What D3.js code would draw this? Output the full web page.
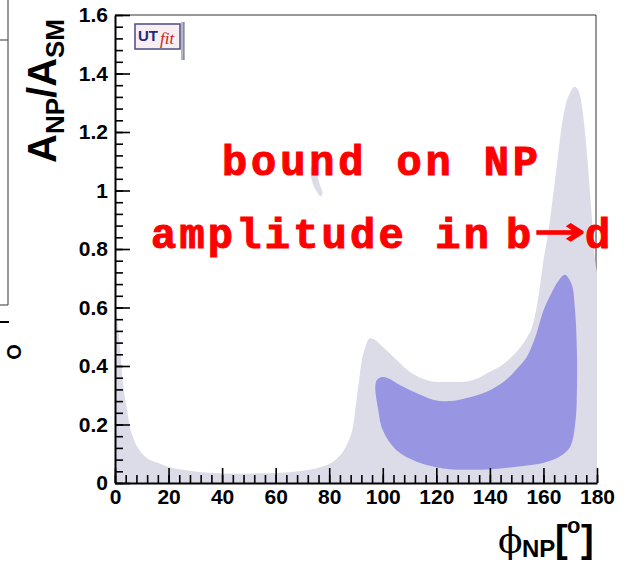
<!DOCTYPE html>
<html>
<head>
<meta charset="utf-8">
<script src="https://cdn.jsdelivr.net/npm/d3@7"></script>
<style>
  body { margin: 0; background: #fff; }
  svg { display: block; }
</style>
</head>
<body>
<div id="chart-area"></div>
<script>
// upper edge of the 95% region (phi in degrees, A_NP/A_SM)
const outerPhi = [0, 1, 2, 3, 4.5, 5.6, 7, 9.3, 12, 15.6, 20, 28, 35, 45, 55, 65, 70, 75, 80, 83, 85, 87, 89, 90, 91, 92, 93.5, 95.2, 97, 100, 103, 106.4, 110, 114, 121, 129, 136, 140, 144, 148, 151, 154, 156, 158, 160, 162, 163.7, 165.2, 166.8, 168.5, 170, 171.5, 172.5, 173.8, 175.3, 176.5, 177.4, 178.3, 179.2, 180];
const outerA = [0.60, 0.55, 0.45, 0.34, 0.25, 0.19, 0.15, 0.11, 0.085, 0.07, 0.055, 0.042, 0.035, 0.032, 0.033, 0.037, 0.042, 0.05, 0.065, 0.085, 0.105, 0.14, 0.20, 0.27, 0.34, 0.41, 0.465, 0.495, 0.49, 0.465, 0.44, 0.41, 0.38, 0.36, 0.345, 0.345, 0.36, 0.38, 0.40, 0.43, 0.46, 0.50, 0.54, 0.63, 0.76, 0.87, 0.99, 1.10, 1.22, 1.30, 1.335, 1.355, 1.35, 1.32, 1.22, 1.10, 0.99, 0.88, 0.77, 0.72];

// small isolated 95% island
const islandPhi = [73.3, 74.5, 76.5, 77.5, 76.8, 74.5, 73];
const islandA = [1.08, 1.075, 1.02, 0.99, 0.98, 1.01, 1.06];

// contour of the 68% region
const innerPhi = [97.2, 97.8, 99.6, 102, 106.4, 112.7, 118.8, 125, 131, 138.8, 146, 150, 153.7, 157, 160, 163, 165.5, 168, 170.5, 171.8, 172.5, 172.5, 172, 170, 166, 161, 156, 144, 134, 122.6, 112.7, 105, 100, 98.3];
const innerA = [0.33, 0.352, 0.362, 0.358, 0.335, 0.307, 0.285, 0.28, 0.29, 0.312, 0.352, 0.39, 0.43, 0.5, 0.59, 0.65, 0.69, 0.712, 0.68, 0.59, 0.45, 0.32, 0.215, 0.124, 0.09, 0.072, 0.062, 0.05, 0.045, 0.05, 0.073, 0.113, 0.18, 0.25];

const xMajor = d3.range(0, 181, 20);
const xMinor = d3.range(0, 181, 4);
const yMajor = [0, 0.2, 0.4, 0.6, 0.8, 1, 1.2, 1.4, 1.6];
const yMinor = d3.range(0, 1.601, 0.04);

const svg = d3.select("#chart-area")
    .append("svg")
    .attr("width", 628)
    .attr("height", 566);

const x = d3.scaleLinear().domain([0, 180]).range([115, 597]);
const y = d3.scaleLinear().domain([0, 1.6]).range([483, 15]);

// bits of the neighbouring panel cut off at the left
const bits = svg.append("g").attr("stroke", "#555").attr("stroke-width", 1.2);
bits.append("line").attr("x1", 8).attr("x2", 8).attr("y1", 0).attr("y2", 305);
bits.append("line").attr("x1", 0).attr("x2", 8).attr("y1", 40).attr("y2", 40);
bits.append("line").attr("x1", 0).attr("x2", 8).attr("y1", 305).attr("y2", 305);
svg.append("line").attr("x1", 0).attr("x2", 9).attr("y1", 322).attr("y2", 322)
    .attr("stroke", "#000").attr("stroke-width", 2);
svg.append("text")
    .attr("transform", "translate(21,352) rotate(-90)")
    .attr("text-anchor", "middle")
    .attr("font-family", "Liberation Sans, Arial, sans-serif")
    .attr("font-weight", "bold")
    .attr("font-size", 20)
    .text("O");

// thin frame (top and right)
svg.append("path")
    .attr("d", `M115,15 H596 V483`)
    .attr("fill", "none")
    .attr("stroke", "#333")
    .attr("stroke-width", 1);

// 95% region
const outer = outerPhi.map((p, i) => [p, outerA[i]]);
svg.append("path")
    .datum(outer)
    .attr("fill", "#dcdce8")
    .attr("d", d3.area()
        .x(d => x(d[0]))
        .y0(y(0))
        .y1(d => y(d[1]))
        .curve(d3.curveMonotoneX));

const island = islandPhi.map((p, i) => [p, islandA[i]]);
svg.append("path")
    .datum(island)
    .attr("fill", "#dcdce8")
    .attr("d", d3.line()
        .x(d => x(d[0]))
        .y(d => y(d[1]))
        .curve(d3.curveCatmullRomClosed));

// 68% region
const inner = innerPhi.map((p, i) => [p, innerA[i]]);
svg.append("path")
    .datum(inner)
    .attr("fill", "#9895e3")
    .attr("d", d3.line()
        .x(d => x(d[0]))
        .y(d => y(d[1]))
        .curve(d3.curveCatmullRomClosed));

// axes
const tickFont = "Liberation Sans, Arial, Helvetica, sans-serif";

svg.append("g")
    .attr("transform", "translate(0,483)")
    .call(d3.axisBottom(x).tickValues(xMinor).tickSize(-8).tickFormat(""))
    .call(g => g.select(".domain").remove())
    .call(g => g.selectAll("line").attr("stroke-width", 1.6));

svg.append("g")
    .attr("transform", "translate(0,483)")
    .call(d3.axisBottom(x).tickValues(xMajor).tickSize(-15).tickSizeOuter(0).tickPadding(6))
    .call(g => g.select(".domain").attr("stroke-width", 2))
    .call(g => g.selectAll("line").attr("stroke-width", 1.6))
    .call(g => g.selectAll("text")
        .attr("font-family", tickFont)
        .attr("font-weight", "bold")
        .attr("font-size", 21)
        .attr("fill", "#000"));

svg.append("g")
    .attr("transform", "translate(115,0)")
    .call(d3.axisLeft(y).tickValues(yMinor).tickSize(-8).tickFormat(""))
    .call(g => g.select(".domain").remove())
    .call(g => g.selectAll("line").attr("stroke-width", 1.6));

svg.append("g")
    .attr("transform", "translate(115,0)")
    .call(d3.axisLeft(y).tickValues(yMajor).tickSize(-15).tickSizeOuter(0).tickPadding(7)
        .tickFormat(d => d3.format("")(+d.toFixed(1))))
    .call(g => g.select(".domain").attr("stroke-width", 2))
    .call(g => g.selectAll("line").attr("stroke-width", 1.6))
    .call(g => g.selectAll("text")
        .attr("font-family", tickFont)
        .attr("font-weight", "bold")
        .attr("font-size", 21)
        .attr("fill", "#000"));

// y axis title
const yt = svg.append("text")
    .attr("transform", "translate(56,163) rotate(-90)")
    .attr("font-family", tickFont)
    .attr("font-weight", "bold")
    .attr("font-size", 40);
yt.append("tspan").text("A");
yt.append("tspan").attr("font-size", 26).attr("dy", 8).text("NP");
yt.append("tspan").attr("dy", -8).text("/A");
yt.append("tspan").attr("font-size", 26).attr("dy", 8).text("SM");

// x axis title
svg.append("text")
    .attr("x", 498).attr("y", 553)
    .attr("font-family", "DejaVu Serif, serif")
    .attr("font-size", 36)
    .text("\u03D5");
svg.append("text")
    .attr("x", 522).attr("y", 557)
    .attr("font-family", tickFont)
    .attr("font-weight", "bold")
    .attr("font-size", 24)
    .text("NP");
svg.append("text")
    .attr("x", 555).attr("y", 552)
    .attr("font-family", tickFont)
    .attr("font-weight", "bold")
    .attr("font-size", 38)
    .text("[");
svg.append("text")
    .attr("x", 567).attr("y", 533)
    .attr("font-family", tickFont)
    .attr("font-weight", "bold")
    .attr("font-size", 22)
    .text("o");
svg.append("text")
    .attr("x", 581).attr("y", 552)
    .attr("font-family", tickFont)
    .attr("font-weight", "bold")
    .attr("font-size", 38)
    .text("]");

// annotation
const mono = "Liberation Mono, Courier New, monospace";
const red = "#ff0000";
function note(xp, yp, str, len) {
    const t = svg.append("text")
        .attr("x", xp).attr("y", yp)
        .attr("font-family", mono).attr("font-weight", "bold").attr("font-size", 42)
        .attr("fill", red)
        .attr("stroke", red).attr("stroke-width", 1.1)
        .text(str);
    if (len) t.attr("textLength", len).attr("lengthAdjust", "spacing");
    return t;
}
note(222, 175, "bound on NP", 316);
note(151, 248, "amplitude in", 338);
note(506, 248, "b");
note(585, 248, "d");
svg.append("text")
    .attr("x", 534).attr("y", 245)
    .attr("font-family", "DejaVu Sans, sans-serif").attr("font-size", 40)
    .attr("fill", red)
    .attr("stroke", red).attr("stroke-width", 1.2)
    .attr("textLength", 52).attr("lengthAdjust", "spacingAndGlyphs")
    .text("\u2192");

// UTfit logo
svg.append("rect")
    .attr("x", 181).attr("y", 22).attr("width", 3).attr("height", 38)
    .attr("fill", "#b4b4cc");
svg.append("line")
    .attr("x1", 184).attr("x2", 184).attr("y1", 22).attr("y2", 60)
    .attr("stroke", "#666").attr("stroke-width", 1);
svg.append("rect")
    .attr("x", 135).attr("y", 24).attr("width", 45).attr("height", 25)
    .attr("fill", "#f6eef0")
    .attr("stroke", "#4a4a86").attr("stroke-width", 1.5);
svg.append("text")
    .attr("x", 138).attr("y", 41)
    .attr("font-family", tickFont).attr("font-weight", "bold").attr("font-size", 15)
    .attr("fill", "#1e2a78")
    .text("UT");
svg.append("text")
    .attr("x", 160).attr("y", 44)
    .attr("font-family", "Liberation Serif, Times New Roman, serif")
    .attr("font-style", "italic").attr("font-size", 17)
    .attr("fill", "#d02020")
    .text("fit");
</script>
</body>
</html>
